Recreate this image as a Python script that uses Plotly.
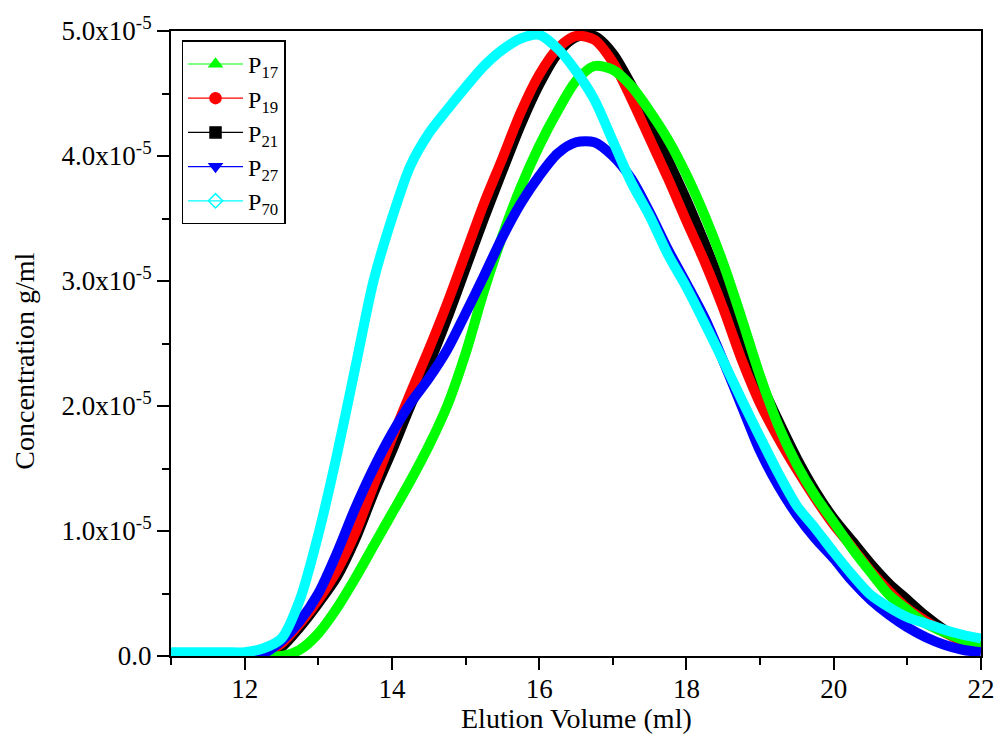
import plotly.graph_objects as go

# Elution volume grid (ml)
elution_ml = [11.0, 11.25, 11.5, 11.75, 12.0, 12.25, 12.5, 12.75, 13.0, 13.25, 13.5, 13.75,
              14.0, 14.25, 14.5, 14.75, 15.0, 15.25, 15.5, 15.75, 16.0, 16.25, 16.5, 16.75,
              17.0, 17.25, 17.5, 17.75, 18.0, 18.25, 18.5, 18.75, 19.0, 19.25, 19.5, 19.75,
              20.0, 20.25, 20.5, 20.75, 21.0, 21.25, 21.5, 21.75, 22.0]

# Concentrations in units of 1e-5 g/ml
p17 = [0.0, 0.0, 0.0, 0.0, 0.0, 0.0, 0.0, 0.05, 0.18, 0.38, 0.62, 0.88,
       1.14, 1.40, 1.68, 2.00, 2.42, 2.92, 3.36, 3.75, 4.08, 4.36, 4.60, 4.72,
       4.69, 4.56, 4.36, 4.13, 3.85, 3.52, 3.14, 2.70, 2.24, 1.84, 1.53, 1.28,
       1.07, 0.86, 0.67, 0.49, 0.37, 0.26, 0.19, 0.13, 0.08]
p19 = [0.0, 0.0, 0.0, 0.0, 0.0, 0.02, 0.10, 0.26, 0.45, 0.68, 0.98, 1.36,
       1.74, 2.10, 2.45, 2.82, 3.22, 3.62, 3.98, 4.35, 4.65, 4.86, 4.96, 4.93,
       4.75, 4.46, 4.14, 3.82, 3.48, 3.15, 2.78, 2.37, 2.02, 1.74, 1.49, 1.26,
       1.05, 0.87, 0.68, 0.52, 0.38, 0.28, 0.19, 0.12, 0.07]
p21 = [0.0, 0.0, 0.0, 0.0, 0.0, 0.0, 0.07, 0.23, 0.42, 0.63, 0.93, 1.30,
       1.64, 2.00, 2.33, 2.70, 3.10, 3.50, 3.88, 4.25, 4.57, 4.82, 4.95, 4.96,
       4.82, 4.57, 4.28, 3.97, 3.65, 3.30, 2.93, 2.55, 2.20, 1.88, 1.58, 1.32,
       1.10, 0.92, 0.74, 0.58, 0.45, 0.32, 0.21, 0.12, 0.05]
p27 = [0.0, 0.0, 0.0, 0.0, 0.0, 0.02, 0.12, 0.28, 0.50, 0.82, 1.18, 1.50,
       1.78, 2.02, 2.22, 2.45, 2.74, 3.04, 3.35, 3.62, 3.84, 4.02, 4.11, 4.11,
       4.00, 3.82, 3.55, 3.25, 2.98, 2.70, 2.36, 2.00, 1.64, 1.36, 1.13, 0.94,
       0.78, 0.60, 0.45, 0.33, 0.23, 0.15, 0.09, 0.05, 0.03]
p70 = [0.03, 0.03, 0.03, 0.03, 0.03, 0.06, 0.14, 0.45, 0.97, 1.60, 2.30, 3.00,
       3.50, 3.92, 4.18, 4.37, 4.55, 4.72, 4.85, 4.94, 4.97, 4.86, 4.68, 4.45,
       4.12, 3.79, 3.52, 3.21, 2.95, 2.66, 2.36, 2.05, 1.75, 1.46, 1.20, 1.02,
       0.83, 0.65, 0.49, 0.39, 0.31, 0.26, 0.21, 0.17, 0.14]

y_tick_vals = [0, 1, 2, 3, 4, 5]
y_tick_text = ["0.0", "1.0x10<sup>-5</sup>", "2.0x10<sup>-5</sup>", "3.0x10<sup>-5</sup>",
               "4.0x10<sup>-5</sup>", "5.0x10<sup>-5</sup>"]
y_minor_vals = [0.5, 1.5, 2.5, 3.5, 4.5]
x_tick_vals = [12, 14, 16, 18, 20, 22]

series = [
    # name, values, color, legend symbol, legend rank
    ("P<sub>17</sub>", p17, "#00FF00", "triangle-up", 1),
    ("P<sub>19</sub>", p19, "#FF0000", "circle", 2),
    ("P<sub>21</sub>", p21, "#000000", "square", 3),
    ("P<sub>27</sub>", p27, "#0000FF", "triangle-down", 4),
    ("P<sub>70</sub>", p70, "#00FFFF", "diamond-open", 5),
]
draw_order = [2, 1, 0, 3, 4]

SCALE = 1e-5
FONT = "Liberation Serif, Times New Roman, serif"

fig = go.Figure()
for i in draw_order:
    name, vals, color, sym, rank = series[i]
    fig.add_trace(go.Scatter(
        x=elution_ml, y=[v * SCALE for v in vals], mode="lines",
        line=dict(color=color, width=10, shape="spline", smoothing=0.8),
        showlegend=False, hoverinfo="skip",
    ))
for name, vals, color, sym, rank in series:
    fig.add_trace(go.Scatter(
        x=[None], y=[None], mode="lines+markers", name=name,
        line=dict(color=color, width=1.2),
        marker=dict(symbol=sym, size=11, color=color, line=dict(color=color, width=1.5)),
        legendrank=rank,
    ))

axis_common = dict(
    showgrid=False, zeroline=False, showline=True, linecolor="black", linewidth=2,
    mirror=True, ticks="outside", ticklen=12, tickwidth=2, tickcolor="black",
    tickfont=dict(family=FONT, size=27, color="black"),
)

fig.update_layout(
    width=1007, height=751,
    margin=dict(l=171, r=18, t=28, b=95),
    plot_bgcolor="white", paper_bgcolor="white",
    font=dict(family=FONT, color="black"),
    xaxis=dict(
        range=[11, 22], tickvals=x_tick_vals, ticklabelstandoff=-4,
        minor=dict(dtick=1, tick0=11, ticks="outside", ticklen=7, tickwidth=2, tickcolor="black"),
        **axis_common,
    ),
    yaxis=dict(
        range=[0, 5 * SCALE], tickvals=[v * SCALE for v in y_tick_vals], ticktext=y_tick_text,
        minor=dict(tickvals=[v * SCALE for v in y_minor_vals], ticks="outside",
                   ticklen=7, tickwidth=2, tickcolor="black"),
        **axis_common,
    ),
    legend=dict(
        x=0.013, y=0.985, xanchor="left", yanchor="top",
        bgcolor="white", bordercolor="black", borderwidth=1.5,
        font=dict(family=FONT, size=24, color="black"),
        tracegroupgap=0, itemwidth=55,
    ),
    annotations=[
        dict(text="Elution Volume (ml)", xref="paper", yref="paper", x=0.5, y=0,
             xanchor="center", yanchor="middle", yshift=-62, showarrow=False,
             font=dict(family=FONT, size=28, color="black")),
        dict(text="Concentration g/ml", xref="paper", yref="paper", x=0, y=0.471,
             xanchor="center", yanchor="middle", xshift=-146, textangle=-90, showarrow=False,
             font=dict(family=FONT, size=28, color="black")),
    ],
)

fig.write_html("out.html")
